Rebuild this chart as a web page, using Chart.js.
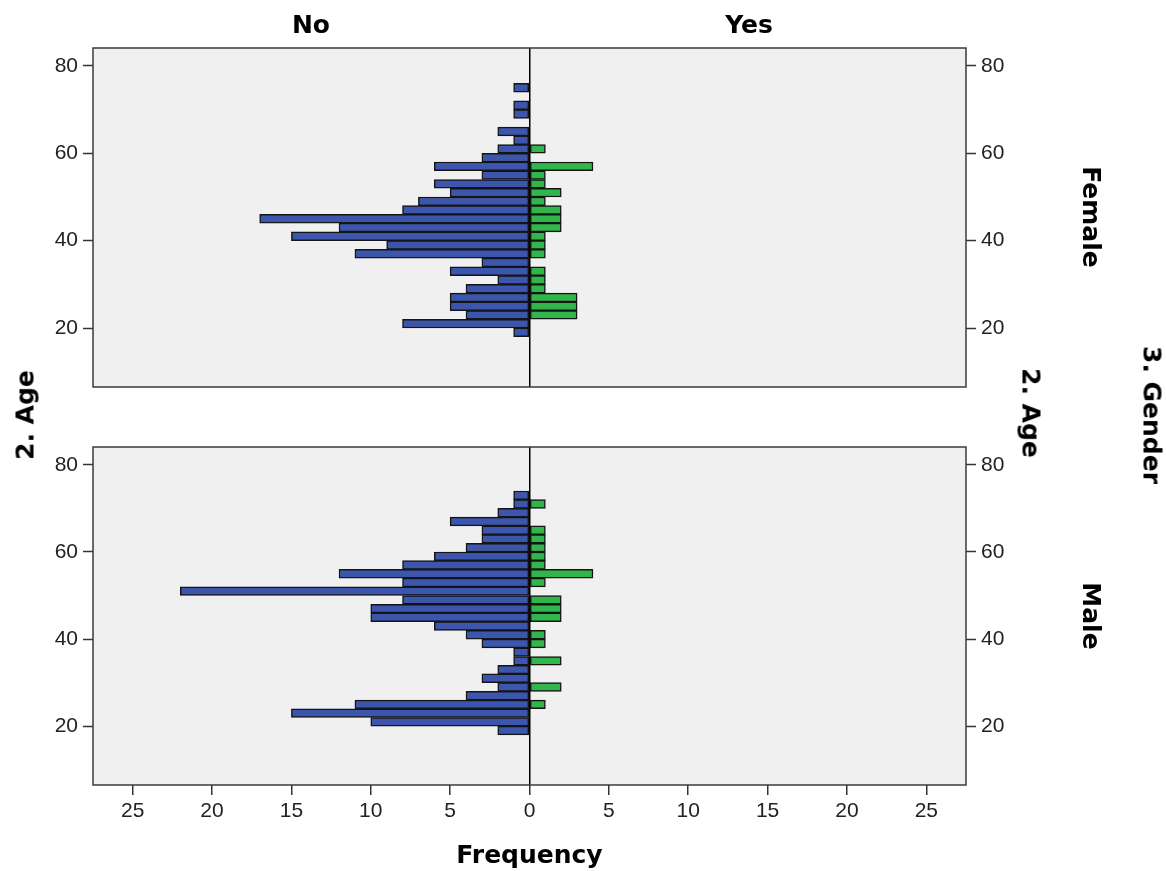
<!DOCTYPE html>
<html>
<head>
<meta charset="utf-8">
<script src="https://cdn.jsdelivr.net/npm/chart.js@4"></script>
<style>
  body { margin: 0; background: #fff; width: 1166px; height: 871px; position: relative; overflow: hidden; }
  canvas { position: absolute; left: 0; }
  .lbl { position: absolute; font: bold 25px 'DejaVu Sans', sans-serif; color: #000; white-space: nowrap; transform: translate(-50%, -50%); }
  .cw { transform: translate(-50%, -50%) rotate(90deg); }
  .ccw { transform: translate(-50%, -50%) rotate(-90deg); }
</style>
</head>
<body>
<canvas id="female" width="1166" height="417" style="top:0"></canvas>
<canvas id="male" width="1166" height="471" style="top:400px"></canvas>

<div class="lbl" style="left:311px; top:24px">No</div>
<div class="lbl" style="left:749px; top:24px">Yes</div>
<div class="lbl ccw" style="left:25px; top:415px">2. Age</div>
<div class="lbl cw" style="left:1031px; top:413px">2. Age</div>
<div class="lbl cw" style="left:1091px; top:217px">Female</div>
<div class="lbl cw" style="left:1091px; top:616px">Male</div>
<div class="lbl cw" style="left:1152px; top:415px">3. Gender</div>

<script>
// 2-year age bins (centres), 18-20 ... 74-76
const ageBins = [19, 21, 23, 25, 27, 29, 31, 33, 35, 37, 39, 41, 43, 45, 47, 49, 51, 53, 55, 57, 59, 61, 63, 65, 67, 69, 71, 73, 75];
const ageTicks = [20, 40, 60, 80];
const freqTicks = [-25, -20, -15, -10, -5, 0, 5, 10, 15, 20, 25];

const femaleNo  = [1, 8, 4, 5, 5, 4, 2, 5, 3, 11, 9, 15, 12, 17, 8, 7, 5, 6, 3, 6, 3, 2, 1, 2, 0, 1, 1, 0, 1];
const femaleYes = [0, 0, 3, 3, 3, 1, 1, 1, 0, 1, 1, 1, 2, 2, 2, 1, 2, 1, 1, 4, 0, 1, 0, 0, 0, 0, 0, 0, 0];
const maleNo    = [2, 10, 15, 11, 4, 2, 3, 2, 1, 1, 3, 4, 6, 10, 10, 8, 22, 8, 12, 8, 6, 4, 3, 3, 5, 2, 1, 1, 0];
const maleYes   = [0, 0, 0, 1, 0, 2, 0, 0, 2, 0, 1, 1, 0, 2, 2, 2, 0, 1, 4, 1, 1, 1, 1, 1, 0, 0, 1, 0, 0];

const BLUE = '#3d56ad';
const GREEN = '#30b64a';

Chart.defaults.font.family = "'Liberation Sans', Arial, sans-serif";
Chart.defaults.color = '#222';

const framePlugin = {
  id: 'frame',
  beforeDraw(chart) {
    const { ctx, chartArea: a } = chart;
    ctx.save();
    ctx.fillStyle = '#f0f0f0';
    ctx.fillRect(a.left, a.top, a.right - a.left, a.bottom - a.top);
    ctx.restore();
  },
  afterDraw(chart) {
    const { ctx, chartArea: a } = chart;
    ctx.save();
    ctx.strokeStyle = '#3a3a3a';
    ctx.lineWidth = 1.5;
    ctx.strokeRect(a.left, a.top, a.right - a.left, a.bottom - a.top);
    ctx.restore();
  }
};

function ageAxis(position, width) {
  return {
    type: 'linear',
    position: position,
    min: 6.5,
    max: 84.1,
    offset: false,
    afterBuildTicks: s => { s.ticks = ageTicks.map(v => ({ value: v })); },
    ticks: { padding: 5, font: { size: 21 }, color: '#222' },
    grid: { offset: false, drawOnChartArea: false, drawTicks: true, tickLength: 10, tickColor: '#333', tickWidth: 1.5 },
    border: { display: false },
    afterFit: s => { s.width = width; }
  };
}

function makePanel(id, noVals, yesVals, showX, padTop, xHeight) {
  const noData = ageBins.map((a, i) => ({ y: a, x: -noVals[i] }));
  const yesData = ageBins.map((a, i) => ({ y: a, x: yesVals[i] }));
  const barStyle = { borderColor: '#151515', borderWidth: 1.5, borderSkipped: false, grouped: false, barPercentage: 1, categoryPercentage: 1 };
  return new Chart(document.getElementById(id), {
    type: 'bar',
    data: {
      datasets: [
        Object.assign({ label: 'No', data: noData, backgroundColor: BLUE }, barStyle),
        Object.assign({ label: 'Yes', data: yesData, backgroundColor: GREEN }, barStyle)
      ]
    },
    options: {
      indexAxis: 'y',
      responsive: false,
      animation: false,
      layout: { padding: { top: padTop, bottom: 0, left: 0, right: 0 } },
      plugins: { legend: { display: false }, tooltip: { enabled: false } },
      scales: {
        x: {
          type: 'linear',
          min: -27.5,
          max: 27.5,
          afterBuildTicks: s => { s.ticks = freqTicks.map(v => ({ value: v })); },
          ticks: { display: showX, callback: v => Math.abs(v), padding: 4, font: { size: 21 }, color: '#222', maxRotation: 0, autoSkip: false },
          grid: {
            color: c => (c.tick && c.tick.value === 0) ? '#000' : 'rgba(0,0,0,0)',
            lineWidth: 1.5,
            drawTicks: showX,
            tickLength: 10,
            tickColor: '#333',
            tickWidth: 1.5
          },
          border: { display: false },
          title: { display: showX, text: 'Frequency', color: '#000', font: { family: "'DejaVu Sans', sans-serif", size: 25, weight: 'bold' }, padding: { top: 0, bottom: 0 } },
          afterFit: s => { s.height = xHeight; }
        },
        y: ageAxis('left', 93),
        y2: ageAxis('right', 200)
      }
    },
    plugins: [framePlugin]
  });
}

makePanel('female', femaleNo, femaleYes, false, 48, 30);
makePanel('male', maleNo, maleYes, true, 47, 86);
</script>
</body>
</html>
